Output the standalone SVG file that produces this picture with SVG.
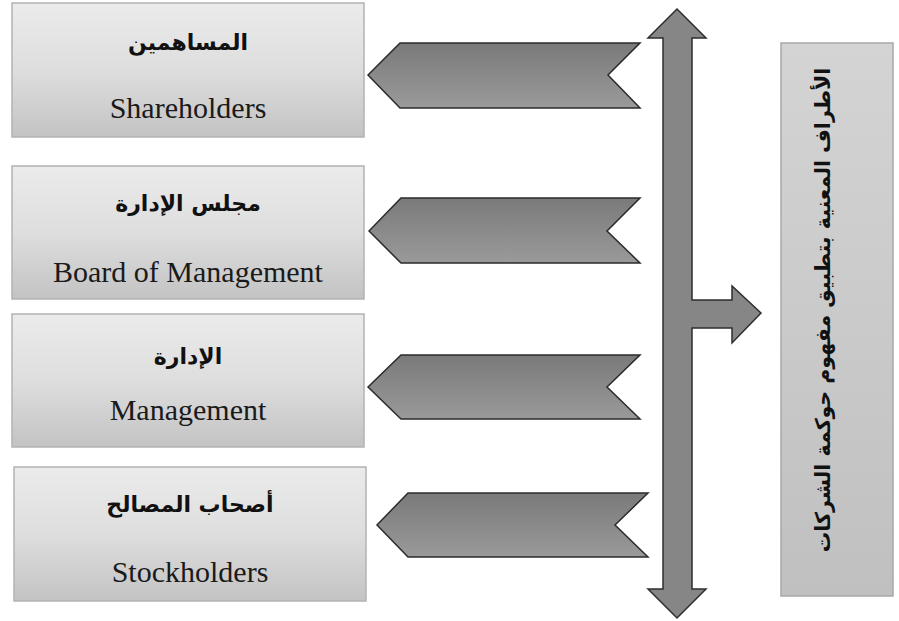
<svg xmlns="http://www.w3.org/2000/svg" width="899" height="621" viewBox="0 0 899 621">
<style>
.box{fill:url(#gBox);stroke:#b3b3b3;stroke-width:1.5}
.en{font-family:"Liberation Serif","Times New Roman",serif;font-size:30px;fill:#1a1a1a;text-anchor:middle}
.ar{font-family:"DejaVu Sans",sans-serif;font-size:22px;font-weight:bold;fill:#111;text-anchor:middle}
.chev{fill:url(#gChev);stroke:#2b2b2b;stroke-width:1.5;stroke-linejoin:miter}
</style>
<defs>
<linearGradient id="gBox" x1="0" y1="0" x2="0" y2="1">
<stop offset="0" stop-color="#ebebeb"/><stop offset="0.5" stop-color="#dedede"/><stop offset="1" stop-color="#c3c3c3"/>
</linearGradient>
<linearGradient id="gChev" x1="0" y1="0" x2="0" y2="1">
<stop offset="0" stop-color="#7a7a7a"/><stop offset="1" stop-color="#9a9a9a"/>
</linearGradient>
<linearGradient id="gRight" x1="0" y1="0" x2="0" y2="1">
<stop offset="0" stop-color="#d4d4d4"/><stop offset="1" stop-color="#c0c0c0"/>
</linearGradient>
</defs>
<rect width="899" height="621" fill="#fff"/>
<g id="shareholders">
<rect class="box" x="12" y="3" width="352" height="134"/>
<text class="ar" x="188" y="50" direction="rtl">المساهمين</text>
<text class="en" x="188" y="118">Shareholders</text>
</g>
<g id="board">
<rect class="box" x="12" y="166" width="352" height="133"/>
<text class="ar" x="188" y="211" direction="rtl">مجلس الإدارة</text>
<text class="en" x="188" y="282">Board of Management</text>
</g>
<g id="management">
<rect class="box" x="12" y="314" width="352" height="133"/>
<text class="ar" x="188" y="364" direction="rtl">الإدارة</text>
<text class="en" x="188" y="420">Management</text>
</g>
<g id="stockholders">
<rect class="box" x="14" y="467" width="352" height="134"/>
<text class="ar" x="190" y="512" direction="rtl">أصحاب المصالح</text>
<text class="en" x="190" y="582">Stockholders</text>
</g>
<g id="parties">
<rect x="781" y="43" width="112" height="553" fill="url(#gRight)" stroke="#a8a8a8" stroke-width="1.5"/>
<text transform="translate(830,310) rotate(-90)" font-family="DejaVu Sans,sans-serif" font-size="20.5" font-weight="bold" fill="#111" text-anchor="middle" direction="rtl">الأطراف المعنية بتطبيق مفهوم حوكمة الشركات</text>
</g>
<g id="connectors">
<polygon class="chev" points="368,75 400,43 640,43 608,75 640,108 400,108"/>
<polygon class="chev" points="369,231 401,198 640,198 607,231 640,263 401,263"/>
<polygon class="chev" points="368,387 401,355 640,355 607,387 640,419 401,419"/>
<polygon class="chev" points="377,525 408,493 648,493 615,525 648,557 408,557"/>
<polygon fill="#868686" stroke="#2e2e2e" stroke-width="1.5" points="677,9 706,38 692,38 692,300 732,300 732,286 761,313 732,343 732,328 692,328 692,589 706,589 677,618 648,589 663,589 663,38 648,38"/>
</g>
</svg>
